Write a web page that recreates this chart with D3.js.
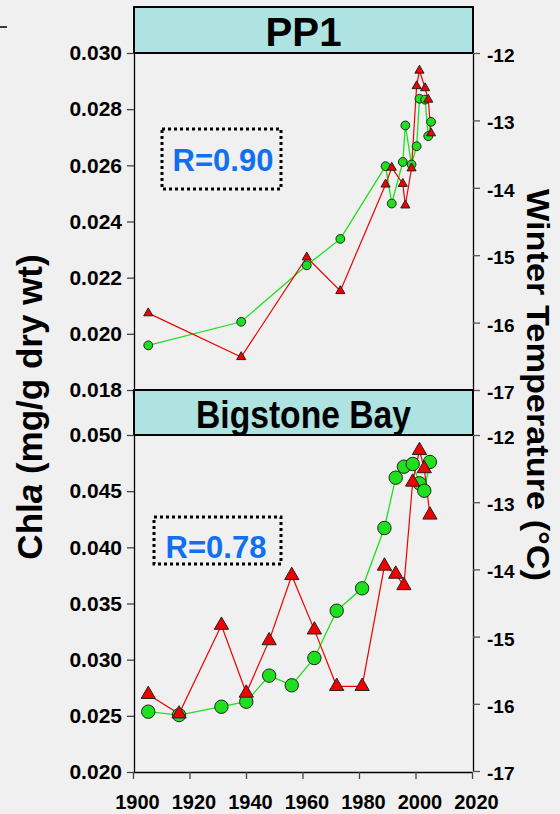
<!DOCTYPE html>
<html>
<head>
<meta charset="utf-8">
<script src="https://cdn.jsdelivr.net/npm/d3@7"></script>
<style>
  html, body { margin: 0; padding: 0; background: #f0f0f0; }
  svg { display: block; font-family: "Liberation Sans", Arial, sans-serif; }
</style>
</head>
<body>
<svg id="chart" width="560" height="814"></svg>
<script>
// ---------- data ----------
const pp1Years  = [1905.4, 1938.3, 1961.5, 1973.4, 1989.4, 1991.6, 1995.5, 1996.4, 1998.6, 2000.4, 2001.4, 2003.4, 2004.5, 2005.5];
const pp1Chla   = [0.01959, 0.02043, 0.02244, 0.02338, 0.02597, 0.02464, 0.02612, 0.02742, 0.02603, 0.02668, 0.02837, 0.02834, 0.02704, 0.02755];
const pp1Temp   = [-15.86, -16.51, -15.03, -15.53, -13.95, -13.70, -13.94, -14.26, -13.71, -12.49, -12.26, -12.52, -12.69, -13.19];

const bbYears   = [1905.4, 1916.3, 1931.3, 1940.1, 1948.2, 1956.2, 1964.2, 1972.1, 1981.1, 1989.0, 1993.0, 1995.9, 1999.0, 2001.4, 2003.1, 2005.1];
const bbChla    = [0.02537, 0.02507, 0.02581, 0.02626, 0.02858, 0.02772, 0.03015, 0.03436, 0.03635, 0.04172, 0.04620, 0.04718, 0.04742, 0.04570, 0.04504, 0.04760];
const bbTemp    = [-15.86, -16.15, -14.83, -15.84, -15.06, -14.09, -14.90, -15.74, -15.74, -13.95, -14.07, -14.24, -12.70, -12.23, -12.50, -13.19];

const xTicks        = [1900, 1920, 1940, 1960, 1980, 2000, 2020];
const pp1ChlaTicks  = [0.018, 0.020, 0.022, 0.024, 0.026, 0.028, 0.030];
const bbChlaTicks   = [0.020, 0.025, 0.030, 0.035, 0.040, 0.045, 0.050];
const tempTicks     = [-17, -16, -15, -14, -13, -12];

const panelTitles = ["PP1", "Bigstone Bay"];
const rLabels     = ["R=0.90", "R=0.78"];

// ---------- layout ----------
const svg = d3.select("#chart");
const GREEN = "#1ee01e", RED = "#f00000", BLUE = "#1170f0", HEAD = "#aee3e2";
const FONT = "Liberation Sans, Arial, sans-serif";
const xL = 134, xR = 473;

const x = d3.scaleLinear().domain([1900, 2020]).range([133, 472]);

svg.append("line").attr("x1", 0).attr("x2", 7).attr("y1", 27).attr("y2", 27)
  .attr("stroke", "#000").attr("stroke-width", 1.5);

const panels = [
  { years: pp1Years, chla: pp1Chla, temp: pp1Temp, chlaTicks: pp1ChlaTicks,
    head: [7, 53], plot: [53, 390], tempRange: [390, 53], r: 4.4, tri: 36,
    titleSize: 40, titleLen: 76, titleBase: 46,
    box: [162, 129, 119, 60], rText: [223, 171] },
  { years: bbYears, chla: bbChla, temp: bbTemp, chlaTicks: bbChlaTicks,
    head: [390, 435], plot: [435, 772], tempRange: [771, 435], r: 6.7, tri: 88,
    titleSize: 38, titleLen: 215, titleBase: 428,
    box: [154, 517, 127, 47], rText: [216, 558] }
];

panels.forEach((p, i) => {
  const yL = d3.scaleLinear().domain(d3.extent(p.chlaTicks)).range([p.plot[1], p.plot[0]]);
  const yR = d3.scaleLinear().domain([-17, -12]).range(p.tempRange);
  const g = svg.append("g");

  // header
  g.append("rect").attr("x", xL).attr("y", p.head[0]).attr("width", xR - xL).attr("height", p.head[1] - p.head[0])
    .attr("fill", HEAD).attr("stroke", "#000").attr("stroke-width", 2);
  g.append("text").attr("x", (xL + xR) / 2).attr("y", p.titleBase)
    .attr("text-anchor", "middle").attr("font-size", p.titleSize).attr("font-weight", "bold").attr("fill", "#000")
    .attr("textLength", p.titleLen).attr("lengthAdjust", "spacingAndGlyphs")
    .text(panelTitles[i]);

  // left axis
  const la = g.append("g").attr("transform", `translate(${xL},0)`)
    .call(d3.axisLeft(yL).tickValues(p.chlaTicks).tickFormat(d3.format(".3f")).tickSize(7).tickSizeOuter(0).tickPadding(5));
  la.select(".domain").attr("stroke", "#000").attr("stroke-width", 1.3);
  la.selectAll(".tick line").attr("stroke", "#444").attr("stroke-width", 1.3);
  la.selectAll(".tick text").attr("font-size", 21).attr("font-weight", "bold").attr("fill", "#000")
    .attr("font-family", FONT);

  // right axis
  const ra = g.append("g").attr("transform", `translate(${xR},0)`)
    .call(d3.axisRight(yR).tickValues(tempTicks).tickFormat(d3.format("d")).tickSize(7).tickSizeOuter(0).tickPadding(7));
  ra.select(".domain").attr("stroke", "#000").attr("stroke-width", 1.3);
  ra.selectAll(".tick line").attr("stroke", "#555").attr("stroke-width", 1.3);
  ra.selectAll(".tick text").attr("font-size", 19).attr("font-weight", "bold").attr("fill", "#000")
    .attr("font-family", FONT).attr("dy", "0.45em")
    .text(d => d3.format("d")(d).replace("\u2212", "-"));

  // bottom axis
  const ba = g.append("g").attr("transform", `translate(0,${p.plot[1]})`)
    .call(d3.axisBottom(x).tickValues(xTicks).tickFormat(i === 1 ? d3.format("d") : () => "")
      .tickSize(i === 1 ? 7 : 5).tickSizeOuter(0).tickPadding(16));
  ba.select(".domain").attr("stroke", "#000").attr("stroke-width", 1.3);
  ba.selectAll(".tick line").attr("stroke", "#444").attr("stroke-width", 1.3);
  ba.selectAll(".tick text").attr("font-size", 20).attr("font-weight", "bold").attr("fill", "#000")
    .attr("font-family", FONT).attr("dx", 4);

  // series
  const chlaPts = p.years.map((yr, k) => [x(yr), yL(p.chla[k])]);
  const tempPts = p.years.map((yr, k) => [x(yr), yR(p.temp[k])]);
  const line = d3.line();
  g.append("path").attr("d", line(chlaPts)).attr("fill", "none").attr("stroke", GREEN).attr("stroke-width", 1.3);
  g.append("path").attr("d", line(tempPts)).attr("fill", "none").attr("stroke", RED).attr("stroke-width", 1.2);

  g.selectAll(".c").data(chlaPts).join("circle")
    .attr("cx", d => d[0]).attr("cy", d => d[1]).attr("r", p.r)
    .attr("fill", GREEN).attr("stroke", "#222").attr("stroke-width", 1);
  const tri = d3.symbol().type(d3.symbolTriangle).size(p.tri);
  g.selectAll(".t").data(tempPts).join("path")
    .attr("transform", d => `translate(${d[0]},${d[1]})`).attr("d", tri)
    .attr("fill", RED).attr("stroke", "#222").attr("stroke-width", 1);

  // R box
  g.append("rect").attr("x", p.box[0]).attr("y", p.box[1]).attr("width", p.box[2]).attr("height", p.box[3])
    .attr("fill", "none").attr("stroke", "#000").attr("stroke-width", 3).attr("stroke-dasharray", "3,3");
  g.append("text").attr("x", p.rText[0]).attr("y", p.rText[1]).attr("text-anchor", "middle")
    .attr("font-size", 31).attr("font-weight", "bold").attr("fill", BLUE).text(rLabels[i]);
});

// axis titles
const lt = svg.append("text").attr("transform", "translate(42,407) rotate(-90)")
  .attr("text-anchor", "middle").attr("font-size", 35).attr("font-weight", "bold").attr("fill", "#000");
lt.append("tspan").text("Chl");
lt.append("tspan").attr("font-style", "italic").text("a");
lt.append("tspan").text(" (mg/g dry wt)");

svg.append("text").attr("transform", "translate(527,385) rotate(90)")
  .attr("text-anchor", "middle").attr("font-size", 32).attr("font-weight", "bold").attr("fill", "#000")
  .attr("textLength", 392).attr("lengthAdjust", "spacingAndGlyphs")
  .text("Winter Temperature (\u00B0C)");
</script>
</body>
</html>
